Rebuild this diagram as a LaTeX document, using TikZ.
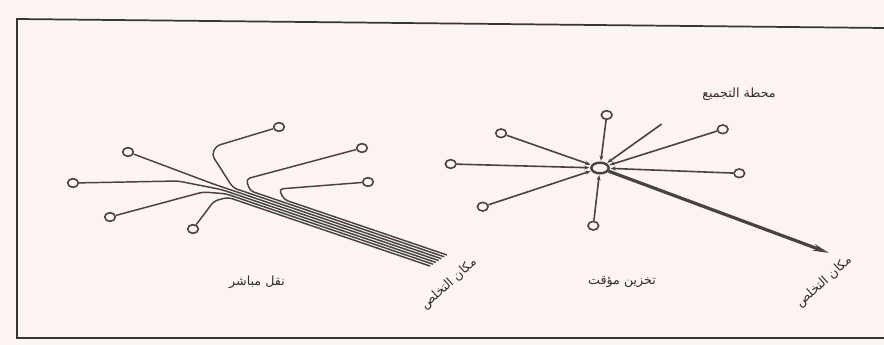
\documentclass[tikz,border=0pt]{standalone}
\usepackage{fontspec}
\usetikzlibrary{shapes.geometric,arrows.meta}
\TeXXeTstate=1
\newfontfamily\arabicfont[Script=Arabic]{DejaVu Sans}
\definecolor{bgc}{RGB}{251,244,242}
\definecolor{ink}{RGB}{72,66,66}
\definecolor{txt}{RGB}{50,45,45}
\tikzset{
  endpt/.style={ellipse, draw=ink, line width=1.2pt, fill=bgc, minimum width=8pt, minimum height=6.5pt, inner sep=0pt},
  hubnode/.style={ellipse, draw=ink, line width=1.8pt, fill=bgc, minimum width=13pt, minimum height=8pt, inner sep=0pt},
  wire/.style={draw=ink, line width=1.1pt, rounded corners=3pt},
  spoke/.style={draw=ink, line width=1.2pt, -{Stealth[length=4pt,width=3pt]}, shorten >=0.5pt},
  bigarrow/.style={draw=ink, line width=2.4pt, -{Stealth[length=12pt,width=5pt]}},
  lbl/.style={text=txt, font=\arabicfont\fontsize{9.5}{11}\selectfont, inner sep=1pt},
  frameline/.style={draw=ink!80!black, line width=1.3pt}
}
\begin{document}
\begin{tikzpicture}[x=0.75pt, y=-0.75pt]
\fill[bgc] (0,0) rectangle (884,345);
\useasboundingbox (0,0) rectangle (884,345);
% frame
\coordinate (f1) at (884,28);
\coordinate (f2) at (17,19);
\coordinate (f3) at (17,338);
\coordinate (f4) at (884,338);
\draw[frameline] (f1) -- (f2) -- (f3) -- (f4);

% ---------- left: direct transport ----------
\node[endpt] (l1) at (73,183) {};
\node[endpt] (l2) at (128,152) {};
\node[endpt] (l3) at (110,217) {};
\node[endpt] (l4) at (193,229) {};
\node[endpt] (l5) at (279,127) {};
\node[endpt] (l6) at (362,148) {};
\node[endpt] (l7) at (368,182) {};

\coordinate (e7) at (447,255.0);
\coordinate (e6) at (444.2,256.8);
\coordinate (e5) at (441.4,258.7);
\coordinate (e2) at (438.6,260.5);
\coordinate (e1) at (435.8,262.4);
\coordinate (e3) at (433,264.2);
\coordinate (e4) at (430.2,266.1);

\draw[wire] (l7) -- (279,189) -- (284,199.6) -- (e7);
\draw[wire] (l6) -- (246,179) -- (250,190.8) -- (e6);
\draw[wire] (l5) -- (216,146) -- (212,155) -- (233,187.8) -- (e5);
\draw[wire] (l2) -- (212,183.5) -- (e2);
\draw[wire] (l1) -- (178,181) -- (222,189.7) -- (e1);
\draw[wire] (l3) -- (203,192) -- (226,193.8) -- (e3);
\draw[wire] (l4) -- (214,201) -- (228,197.3) -- (e4);

\node[lbl] (t1) at (257,282) {\beginR نقل مباشر\endR};
\node[lbl, rotate=42] (t2) at (449,284) {\beginR مكان التخلص\endR};

% ---------- right: temporary storage ----------
\node[hubnode] (hub) at (600,168) {};
\node[endpt] (r1) at (606.7,115) {};
\coordinate (r2) at (661.7,124);
\node[endpt] (r3) at (722.7,129.3) {};
\node[endpt] (r4) at (739.3,173.3) {};
\node[endpt] (r5) at (501,133.3) {};
\node[endpt] (r6) at (450.7,164) {};
\node[endpt] (r7) at (482.7,206.7) {};
\node[endpt] (r8) at (593.3,225.7) {};
\coordinate (dest) at (829,253);

\foreach \r in {r1,r2,r3,r4,r5,r6,r7,r8}{
  \draw[spoke] (\r) -- (hub);
}
\draw[bigarrow] (hub) -- (dest);

\node[lbl] (t3) at (739,94) {\beginR محطة التجميع\endR};
\node[lbl] (t4) at (622,282) {\beginR تخزين مؤقت\endR};
\node[lbl, rotate=42] (t5) at (824,282) {\beginR مكان التخلص\endR};
\end{tikzpicture}
\end{document}
